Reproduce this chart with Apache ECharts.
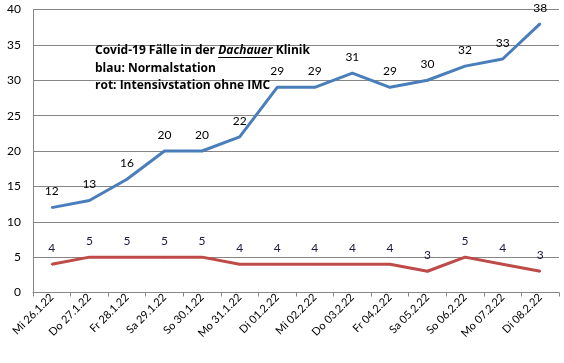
<!DOCTYPE html>
<html><head><meta charset="utf-8">
<script src="https://cdn.jsdelivr.net/npm/echarts@6/dist/echarts.min.js"></script>
<style>html,body{margin:0;padding:0;background:#fff}#c{width:564px;height:363px}</style>
</head><body><div id="c"></div>
<script>
const categories = ['Mi 26.1.22','Do 27.1.22','Fr 28.1.22','Sa 29.1.22','So 30.1.22','Mo 31.1.22','Di 01.2.22','Mi 02.2.22','Do 03.2.22','Fr 04.2.22','Sa 05.2.22','So 06.2.22','Mo 07.2.22','Di 08.2.22'];
const normalstation = [12,13,16,20,20,22,29,29,31,29,30,32,33,38];
const intensivstation = [4,5,5,5,5,4,4,4,4,4,3,5,4,3];
const yTicks = [0,5,10,15,20,25,30,35,40];

const FONT = '"Open Sans", Lato, sans-serif';
const TFS = 12;
const TLEFT = 95, TTOP = 42, TLH = 17.5;
const ulY = 57.5;

function underline() {
  const cv = document.createElement('canvas').getContext('2d');
  cv.font = 'bold ' + TFS + 'px ' + FONT;
  const wPre = cv.measureText('Covid-19 Fälle in der ').width;
  cv.font = 'italic bold ' + TFS + 'px ' + FONT;
  const wItal = cv.measureText('Dachauer').width;
  return [{id:'ul',type:'line',shape:{x1:TLEFT+wPre,y1:ulY,x2:TLEFT+wPre+wItal,y2:ulY},style:{stroke:'#000',lineWidth:1}}];
}

const chart = echarts.init(document.getElementById('c'), null, {renderer:'canvas'});
chart.setOption({
  animation:false,
  backgroundColor:'#fff',
  grid:{left:33,right:5,top:9.5,bottom:70.5,containLabel:false},
  title:{
    left:TLEFT, top:TTOP, padding:0,
    text:'{b|Covid-19 Fälle in der }{bi|Dachauer}{b| Klinik}\n{b|blau: Normalstation}\n{b|rot: Intensivstation ohne IMC}',
    textStyle:{
      fontWeight:'bold', fontFamily:FONT, fontSize:TFS,
      rich:{
        b:{fontFamily:FONT,fontWeight:'bold',fontSize:TFS,color:'#000',lineHeight:TLH},
        bi:{fontFamily:FONT,fontWeight:'bold',fontStyle:'italic',fontSize:TFS,color:'#000',lineHeight:TLH}
      }
    }
  },
  graphic:underline(),
  xAxis:{
    type:'category', data:categories, boundaryGap:true,
    axisLine:{lineStyle:{color:'#868686',width:1}},
    axisTick:{show:true,length:4,lineStyle:{color:'#868686'}},
    axisLabel:{rotate:45,fontSize:11,fontFamily:'Lato, sans-serif',color:'#000',margin:3,interval:0}
  },
  yAxis:{
    type:'value', min:0, max:40, interval:5,
    axisLine:{show:true,lineStyle:{color:'#868686',width:1}},
    axisTick:{show:false},
    splitLine:{lineStyle:{color:'#868686',width:1}},
    axisLabel:{fontSize:12,fontFamily:'Lato, sans-serif',color:'#000',margin:12,
      formatter:v=>yTicks.includes(v)?String(v):''}
  },
  series:[
    {type:'line',data:normalstation,symbol:'circle',symbolSize:2,showSymbol:true,
     lineStyle:{color:'#4A7EBB',width:3},
     itemStyle:{color:'#4A7EBB',borderWidth:0},
     label:{show:true,position:'top',distance:9,fontSize:12,fontFamily:'Lato, sans-serif',color:'#000'}},
    {type:'line',data:intensivstation,symbol:'circle',symbolSize:2,showSymbol:true,
     lineStyle:{color:'#BE4B48',width:3},
     itemStyle:{color:'#BE4B48',borderWidth:0},
     label:{show:true,position:'top',distance:9,fontSize:12,fontFamily:'Lato, sans-serif',color:'#1a1a40'}}
  ]
});
if (document.fonts && document.fonts.load) {
  Promise.all([
    document.fonts.load('bold ' + TFS + 'px "Open Sans"'),
    document.fonts.load('italic bold ' + TFS + 'px "Open Sans"')
  ]).then(() => { chart.setOption({title:{text:chart.getOption().title[0].text}, graphic:underline()}); });
}
</script></body></html>
